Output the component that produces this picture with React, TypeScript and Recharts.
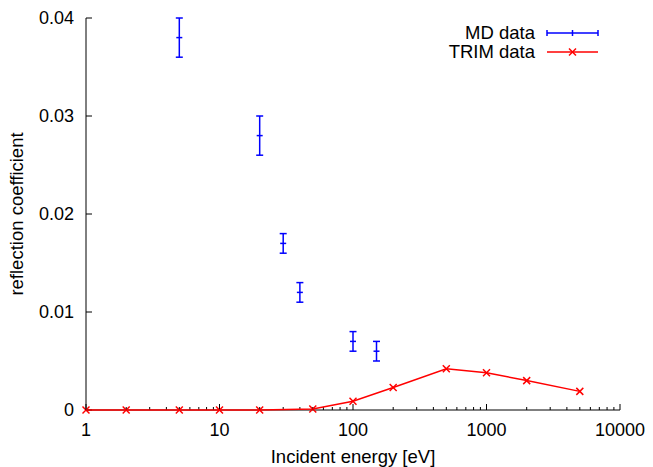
import React from "react"
import {
  ComposedChart,
  Line,
  Scatter,
  ErrorBar,
  XAxis,
  YAxis,
  Legend,
} from "recharts"

// MD simulation points (energy in eV, coefficient, error)
const mdEnergy = [5, 20, 30, 40, 100, 150]
const mdValue = [0.038, 0.028, 0.017, 0.012, 0.007, 0.006]
const mdError = [0.002, 0.002, 0.001, 0.001, 0.001, 0.001]

// TRIM reference curve
const trimEnergy = [1, 2, 5, 10, 20, 50, 100, 200, 500, 1000, 2000, 5000]
const trimValue = [0, 0, 0, 0, 0, 0.0001, 0.0009, 0.0023, 0.0042, 0.0038, 0.003, 0.0019]

const majorX = [1, 10, 100, 1000, 10000]
const minorX = [2, 3, 4, 5, 6, 7, 8, 9, 20, 30, 40, 50, 60, 70, 80, 90, 200, 300, 400, 500, 600, 700, 800, 900, 2000, 3000, 4000, 5000, 6000, 7000, 8000, 9000]
const yTicks = [0, 0.01, 0.02, 0.03, 0.04]

const mdData = mdEnergy.map((x, i) => ({ x, y: mdValue[i], err: mdError[i] }))
const trimData = trimEnergy.map((x, i) => ({ x, y: trimValue[i] }))
const xTicks = [...majorX, ...minorX].sort((a, b) => a - b)

const FONT = "'Liberation Sans', Arial, Helvetica, sans-serif"
const BLUE = "#0000ff"
const RED = "#ff0000"

function BottomTick(props: any) {
  const { x, y, payload } = props
  const major = majorX.includes(payload.value)
  return (
    <g>
      <line x1={x} x2={x} y1={y} y2={y - (major ? 6 : 3)} stroke="#000" />
      {major && (
        <text x={x} y={y + 26} textAnchor="middle" fontSize={18} fontFamily={FONT} fill="#000">
          {payload.value}
        </text>
      )}
    </g>
  )
}

function TopTick(props: any) {
  const { x, y, payload } = props
  const major = majorX.includes(payload.value)
  return <line x1={x} x2={x} y1={y} y2={y + (major ? 6 : 3)} stroke="#000" />
}

function LeftTick(props: any) {
  const { x, y, payload } = props
  return (
    <g>
      <line x1={x} x2={x + 6} y1={y} y2={y} stroke="#000" />
      <text x={x - 12} y={y + 6} textAnchor="end" fontSize={18} fontFamily={FONT} fill="#000">
        {payload.value === 0 ? "0" : payload.value}
      </text>
    </g>
  )
}

function RightTick(props: any) {
  const { x, y } = props
  return <line x1={x} x2={x - 6} y1={y} y2={y} stroke="#000" />
}

function XLabel(props: any) {
  const { x, y, width } = props.viewBox
  return (
    <text x={x + width / 2} y={y + 53} textAnchor="middle" fontSize={18.5} fontFamily={FONT} fill="#000">
      Incident energy [eV]
    </text>
  )
}

function YLabel(props: any) {
  const { x, y, height } = props.viewBox
  const cx = x + 23
  const cy = y + height / 2
  return (
    <text
      x={cx}
      y={cy}
      transform={`rotate(-90 ${cx} ${cy})`}
      textAnchor="middle"
      fontSize={18.5}
      fontFamily={FONT}
      fill="#000"
    >
      reflection coefficient
    </text>
  )
}

function PlusMark(props: any) {
  const { cx, cy } = props
  if (cx == null || cy == null) return null
  return <line x1={cx - 3} x2={cx + 3} y1={cy} y2={cy} stroke={BLUE} strokeWidth={1.5} />
}

function CrossDot(props: any) {
  const { cx, cy } = props
  if (cx == null || cy == null) return null
  const s = 3.5
  return (
    <g stroke={RED} strokeWidth={1.5}>
      <line x1={cx - s} x2={cx + s} y1={cy - s} y2={cy + s} />
      <line x1={cx - s} x2={cx + s} y1={cy + s} y2={cy - s} />
    </g>
  )
}

function KeyBox() {
  return (
    <svg width={200} height={50} style={{ overflow: "visible" }}>
      <g fontFamily={FONT} fontSize={18.5} fill="#000">
        <text x={115} y={19} textAnchor="end">MD data</text>
        <text x={115} y={38} textAnchor="end">TRIM data</text>
      </g>
      <g stroke={BLUE} strokeWidth={1.5}>
        <line x1={127} x2={178} y1={13} y2={13} />
        <line x1={127} x2={127} y1={10} y2={16} />
        <line x1={178} x2={178} y1={10} y2={16} />
        <line x1={152.5} x2={152.5} y1={10} y2={16} />
      </g>
      <g stroke={RED} strokeWidth={1.5}>
        <line x1={127} x2={178} y1={32} y2={32} />
        <line x1={149} x2={156} y1={28.5} y2={35.5} />
        <line x1={149} x2={156} y1={35.5} y2={28.5} />
      </g>
    </svg>
  )
}

export default function App() {
  return (
    <div style={{ position: "absolute", left: 0, top: 0, width: 653, height: 467, background: "#fff" }}>
      <ComposedChart width={653} height={467} margin={{ top: 18, right: 33, bottom: 0, left: 0 }}>
        <XAxis
          dataKey="x"
          type="number"
          scale="log"
          domain={[1, 10000]}
          ticks={xTicks}
          interval={0}
          height={57}
          tickSize={0}
          tickMargin={0}
          tick={<BottomTick />}
          axisLine={{ stroke: "#000" }}
          label={<XLabel />}
        />
        <XAxis
          xAxisId="top"
          orientation="top"
          type="number"
          scale="log"
          domain={[1, 10000]}
          allowDataOverflow
          ticks={xTicks}
          interval={0}
          height={0}
          tickSize={0}
          tickMargin={0}
          tick={<TopTick />}
          axisLine={{ stroke: "#000" }}
        />
        <YAxis
          dataKey="y"
          type="number"
          domain={[0, 0.04]}
          ticks={yTicks}
          interval={0}
          width={86}
          tickSize={0}
          tickMargin={0}
          tick={<LeftTick />}
          axisLine={{ stroke: "#000" }}
          label={<YLabel />}
        />
        <YAxis
          yAxisId="right"
          orientation="right"
          type="number"
          domain={[0, 0.04]}
          allowDataOverflow
          ticks={yTicks}
          interval={0}
          width={0}
          tickSize={0}
          tickMargin={0}
          tick={<RightTick />}
          axisLine={{ stroke: "#000" }}
        />
        <Legend
          layout="vertical"
          align="center"
          verticalAlign="middle"
          content={() => <KeyBox />}
          wrapperStyle={{ position: "absolute", left: 420, top: 20, width: 200, height: 50 }}
        />
        <Line
          name="TRIM data"
          data={trimData}
          dataKey="y"
          stroke={RED}
          strokeWidth={1.5}
          dot={<CrossDot />}
          activeDot={false}
          isAnimationActive={false}
          {...({ zIndex: 2000 } as any)}
        />
        <Scatter
          name="MD data"
          data={mdData}
          dataKey="y"
          fill={BLUE}
          shape={<PlusMark />}
          isAnimationActive={false}
          {...({ zIndex: 2000 } as any)}
        >
          <ErrorBar dataKey="err" direction="y" width={3.5} stroke={BLUE} strokeWidth={1.5} isAnimationActive={false} />
        </Scatter>
      </ComposedChart>
    </div>
  )
}
